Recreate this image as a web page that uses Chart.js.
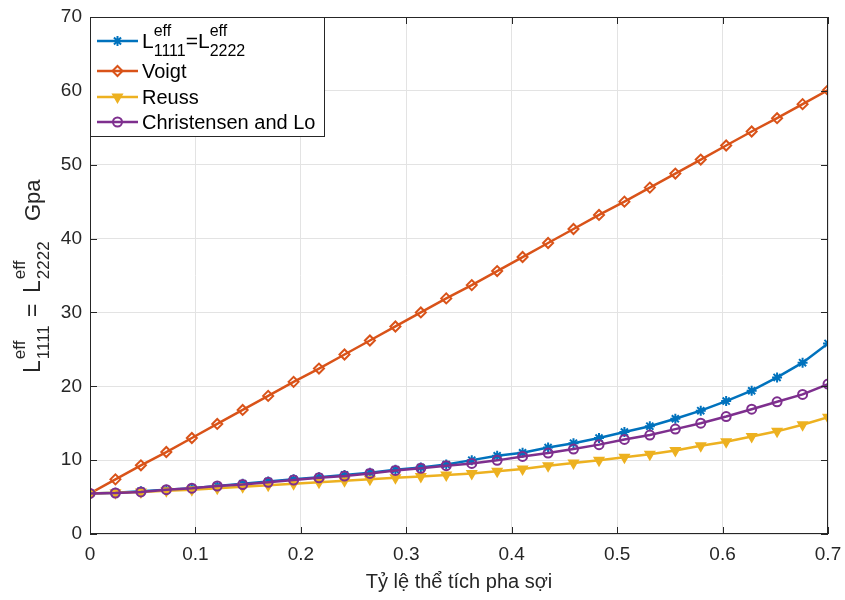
<!DOCTYPE html>
<html>
<head>
<meta charset="utf-8">
<script src="https://cdn.jsdelivr.net/npm/chart.js@4.4.1/dist/chart.umd.min.js"></script>
<style>
    html, body { margin: 0; padding: 0; background: #fff; }
    #wrap { width: 845px; height: 600px; }
</style>
</head>
<body>
<div id="wrap"><canvas id="chart" width="845" height="600"></canvas></div>
<script>
// volume fraction of the fibre phase (30 samples, 0 .. 0.7)
const xValues = [0, 0.0241, 0.0483, 0.0724, 0.0966, 0.1207, 0.1448, 0.1690, 0.1931, 0.2172,
    0.2414, 0.2655, 0.2897, 0.3138, 0.3379, 0.3621, 0.3862, 0.4103, 0.4345, 0.4586,
    0.4828, 0.5069, 0.5310, 0.5552, 0.5793, 0.6034, 0.6276, 0.6517, 0.6759, 0.7];

const lEff = [5.5, 5.6, 5.8, 6.0, 6.2, 6.5, 6.8, 7.1, 7.4, 7.7,
    8.0, 8.3, 8.7, 9.0, 9.4, 10.0, 10.6, 11.0, 11.7, 12.3,
    13.0, 13.8, 14.6, 15.6, 16.7, 18.0, 19.4, 21.2, 23.2, 25.8];

const voigt = [5.5, 7.4, 9.3, 11.1, 13.0, 14.9, 16.8, 18.7, 20.6, 22.4,
    24.3, 26.2, 28.1, 30.0, 31.9, 33.7, 35.6, 37.5, 39.4, 41.3,
    43.2, 45.0, 46.9, 48.8, 50.7, 52.6, 54.5, 56.3, 58.2, 60.1];

const reuss = [5.5, 5.6, 5.7, 5.85, 6.0, 6.2, 6.4, 6.6, 6.8, 7.0,
    7.2, 7.4, 7.6, 7.8, 8.0, 8.2, 8.5, 8.8, 9.25, 9.6,
    10.0, 10.4, 10.8, 11.3, 11.95, 12.5, 13.2, 13.9, 14.8, 15.8];

const christensenLo = [5.5, 5.55, 5.7, 6.0, 6.2, 6.5, 6.7, 7.0, 7.3, 7.6,
    7.85, 8.2, 8.6, 8.9, 9.25, 9.56, 9.97, 10.5, 10.96, 11.5,
    12.1, 12.8, 13.4, 14.2, 15.0, 15.9, 16.9, 17.9, 18.9, 20.3];

const xTicks = [0, 0.1, 0.2, 0.3, 0.4, 0.5, 0.6, 0.7];
const yTicks = [0, 10, 20, 30, 40, 50, 60, 70];

const FONT = '"Liberation Sans", Arial, Helvetica, sans-serif';
const INK = '#262626';
const COLORS = { blue: '#0072BD', orange: '#D95319', yellow: '#EDB120', purple: '#7E2F8E' };

const pts = arr => arr.map((y, i) => ({ x: xValues[i], y }));

const series = [
    { key: 'leff', data: lEff, color: COLORS.blue, style: 'star', rot: 0, r: 5, fill: COLORS.blue, order: 3 },
    { key: 'voigt', data: voigt, color: COLORS.orange, style: 'rectRot', rot: 0, r: 5, fill: 'rgba(0,0,0,0)', order: 2 },
    { key: 'reuss', data: reuss, color: COLORS.yellow, style: 'triangle', rot: 180, r: 5, fill: COLORS.yellow, order: 1 },
    { key: 'clo', data: christensenLo, color: COLORS.purple, style: 'circle', rot: 0, r: 4.5, fill: 'rgba(0,0,0,0)', order: 0 },
];

// draws L with stacked "eff" superscript and numeric subscript, returns width
function drawLeff(ctx, x, y, sub, big, small) {
    ctx.font = big + 'px ' + FONT;
    ctx.fillText('L', x, y);
    const w = ctx.measureText('L').width;
    ctx.font = small + 'px ' + FONT;
    ctx.fillText('eff', x + w, y - big * 0.55);
    ctx.fillText(sub, x + w, y + big * 0.4);
    return w + Math.max(ctx.measureText('eff').width, ctx.measureText(sub).width);
}

function marker(ctx, s, x, y) {
    ctx.save();
    ctx.strokeStyle = s.color;
    ctx.fillStyle = s.fill;
    ctx.lineWidth = 2;
    Chart.helpers.drawPoint(ctx, { pointStyle: s.style, rotation: s.rot, radius: s.r, borderWidth: 2 }, x, y);
    ctx.restore();
}

const decorations = {
    id: 'decorations',
    afterDraw(chart) {
        const ctx = chart.ctx;
        const a = chart.chartArea;
        const xs = chart.scales.x, ys = chart.scales.y;

        // axes box with inward ticks
        ctx.save();
        ctx.strokeStyle = INK;
        ctx.lineWidth = 1;
        ctx.strokeRect(a.left + 0.5, a.top + 0.5, a.right - a.left - 1, a.bottom - a.top - 1);
        ctx.beginPath();
        xTicks.forEach(v => {
            const px = Math.round(xs.getPixelForValue(v)) + 0.5;
            ctx.moveTo(px, a.bottom); ctx.lineTo(px, a.bottom - 7);
            ctx.moveTo(px, a.top); ctx.lineTo(px, a.top + 7);
        });
        yTicks.forEach(v => {
            const py = Math.round(ys.getPixelForValue(v)) + 0.5;
            ctx.moveTo(a.left, py); ctx.lineTo(a.left + 7, py);
            ctx.moveTo(a.right, py); ctx.lineTo(a.right - 7, py);
        });
        ctx.stroke();

        // legend
        const lx = a.left + 0.5, ly = a.top + 0.5, lw = 234, lh = 119;
        ctx.fillStyle = '#fff';
        ctx.fillRect(lx, ly, lw, lh);
        ctx.strokeStyle = INK;
        ctx.strokeRect(lx, ly, lw, lh);
        const rows = [41, 71, 97, 122];
        const labels = [null, 'Voigt', 'Reuss', 'Christensen and Lo'];
        series.forEach((s, i) => {
            const cy = rows[i];
            ctx.strokeStyle = s.color;
            ctx.lineWidth = 2.5;
            ctx.beginPath();
            ctx.moveTo(97, cy); ctx.lineTo(138, cy);
            ctx.stroke();
            marker(ctx, s, 117.5, cy);
            ctx.fillStyle = '#000';
            ctx.textAlign = 'left';
            ctx.textBaseline = 'alphabetic';
            if (labels[i]) {
                ctx.font = '20px ' + FONT;
                ctx.fillText(labels[i], 142, cy + 7);
            } else {
                let x = 142;
                x += drawLeff(ctx, x, 48, '1111', 21, 16);
                ctx.font = '21px ' + FONT;
                ctx.fillText('=', x, 48);
                x += ctx.measureText('=').width;
                drawLeff(ctx, x, 48, '2222', 21, 16);
            }
        });

        // y axis title, pieces placed along the text line (reads bottom to top)
        ctx.fillStyle = INK;
        ctx.textAlign = 'left';
        ctx.textBaseline = 'alphabetic';
        ctx.translate(40, 373);
        ctx.rotate(-Math.PI / 2);
        const big = 23, small = 17;
        const putL = (t, sub) => {
            ctx.font = big + 'px ' + FONT;
            ctx.fillText('L', t, 0);
            const w = ctx.measureText('L').width;
            ctx.font = small + 'px ' + FONT;
            ctx.fillText('eff', t + w + 1, -15);
            ctx.fillText(sub, t + w + 1, 9);
        };
        putL(0, '1111');
        ctx.font = big + 'px ' + FONT;
        ctx.fillText('=', 56, 0);
        putL(80, '2222');
        ctx.font = '22px ' + FONT;
        ctx.fillText('Gpa', 152, 0);
        ctx.setTransform(1, 0, 0, 1, 0, 0);

        // x axis title
        ctx.font = '20px ' + FONT;
        ctx.textAlign = 'center';
        ctx.fillText('Tỷ lệ thể tích pha sợi', (a.left + a.right) / 2, 588);
        ctx.restore();
    }
};

new Chart(document.getElementById('chart'), {
    type: 'line',
    data: {
        datasets: series.map(s => ({
            label: s.key,
            data: pts(s.data),
            borderColor: s.color,
            backgroundColor: s.fill,
            borderWidth: 2.5,
            pointStyle: s.style,
            pointRotation: s.rot,
            pointRadius: s.r,
            pointBorderWidth: 2,
            pointBorderColor: s.color,
            pointBackgroundColor: s.fill,
            tension: 0,
            fill: false,
            order: s.order,
        })),
    },
    options: {
        responsive: false,
        animation: false,
        layout: { padding: { top: 17, right: 17, left: 0, bottom: 0 } },
        plugins: {
            legend: { display: false },
            tooltip: { enabled: false },
        },
        scales: {
            x: {
                type: 'linear',
                min: 0,
                max: 0.7,
                afterBuildTicks: scale => { scale.ticks = xTicks.map(v => ({ value: v })); },
                afterFit: scale => { scale.height = 66; scale.paddingLeft = 0; scale.paddingRight = 0; },
                ticks: {
                    color: INK,
                    padding: 9,
                    font: { size: 19, family: FONT },
                    callback: v => (v === 0 ? '0' : v.toFixed(1)),
                },
                grid: { color: '#e3e3e3', drawTicks: false },
                border: { display: false },
            },
            y: {
                type: 'linear',
                min: 0,
                max: 70,
                afterBuildTicks: scale => { scale.ticks = yTicks.map(v => ({ value: v })); },
                afterFit: scale => { scale.width = 90; scale.paddingTop = 0; scale.paddingBottom = 0; },
                ticks: {
                    color: INK,
                    padding: 8,
                    font: { size: 19, family: FONT },
                },
                grid: { color: '#e3e3e3', drawTicks: false },
                border: { display: false },
            },
        },
    },
    plugins: [decorations],
});
</script>
</body>
</html>
